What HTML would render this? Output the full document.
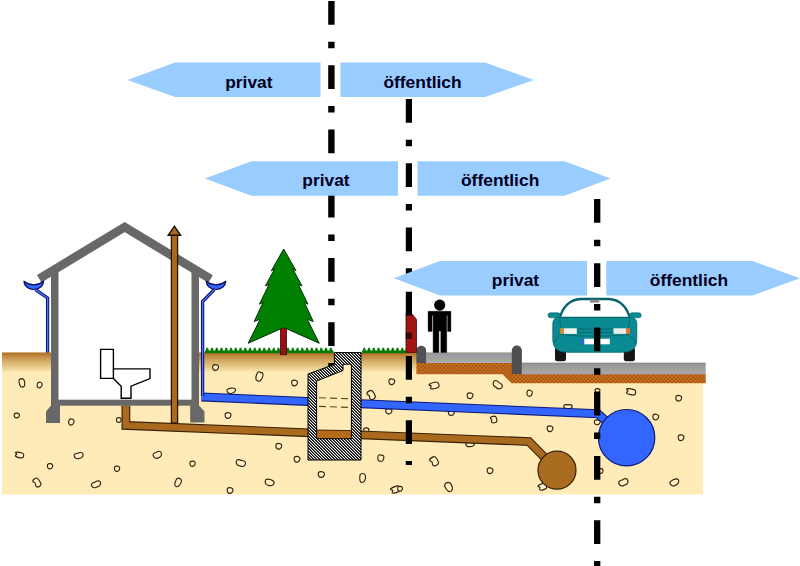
<!DOCTYPE html>
<html><head><meta charset="utf-8"><title>Grundstücksentwässerung</title>
<style>html,body{margin:0;padding:0;background:#fff;}body{width:800px;height:566px;overflow:hidden;font-family:"Liberation Sans",sans-serif;}svg{display:block;}text{font-family:"Liberation Sans",sans-serif;font-weight:bold;font-size:17.4px;fill:#00001c;}</style>
</head><body>
<svg width="800" height="566" viewBox="0 0 800 566">
<defs>
<linearGradient id="gg" x1="0" y1="0" x2="0" y2="1">
<stop offset="0" stop-color="#a96b21"/><stop offset="0.15" stop-color="#bd873c"/><stop offset="0.33" stop-color="#cb9d56"/><stop offset="0.53" stop-color="#dab872"/><stop offset="0.78" stop-color="#ead194"/><stop offset="1" stop-color="#ffebb8"/>
</linearGradient>
<pattern id="hatch" width="3" height="3" patternUnits="userSpaceOnUse" patternTransform="translate(308 352)">
<rect width="3" height="3" fill="#fff"/>
<g shape-rendering="crispEdges"><rect x="0" y="0" width="1" height="1" fill="#000"/><rect x="1" y="1" width="1" height="1" fill="#000"/><rect x="2" y="2" width="1" height="1" fill="#000"/>
<rect x="1" y="0" width="1" height="1" fill="#555"/><rect x="2" y="1" width="1" height="1" fill="#555"/><rect x="0" y="2" width="1" height="1" fill="#555"/></g>
</pattern>
<pattern id="gravel" width="3.8" height="3.8" patternUnits="userSpaceOnUse" patternTransform="translate(416.4 363)">
<rect width="3.8" height="3.8" fill="#c8701f"/><circle cx="0.9" cy="0.9" r="0.75" fill="#7a3208"/><circle cx="2.8" cy="2.8" r="0.75" fill="#7a3208"/>
</pattern>
<linearGradient id="sw" x1="0" y1="0" x2="0" y2="1"><stop offset="0" stop-color="#8a8a88"/><stop offset="0.12" stop-color="#9a98a4"/><stop offset="0.4" stop-color="#a1a1a1"/><stop offset="0.65" stop-color="#a0a499"/><stop offset="1" stop-color="#b0aebb"/></linearGradient>
<linearGradient id="rd" x1="0" y1="0" x2="0" y2="1"><stop offset="0" stop-color="#7e7e7e"/><stop offset="0.15" stop-color="#979797"/><stop offset="0.55" stop-color="#9fa29c"/><stop offset="1" stop-color="#a9a5b0"/></linearGradient>
</defs>
<polygon points="2,352.5 522,352.5 522,363 703,363 703,494.6 2,494.6" fill="#ffebb8"/>
<rect x="2" y="352.5" width="420" height="20" fill="url(#gg)"/>
<path d="M-1,-0.35 C-1,-1 -0.35,-1.05 0,-0.85 C0.4,-1.1 1.05,-0.85 1,-0.1 C0.95,0.7 0.45,1 0,0.85 C-0.5,1.05 -1.05,0.55 -1,-0.35Z" transform="translate(22 383) rotate(-10) scale(2.75 4.50)" fill="#ffefc4" stroke="#33220c" stroke-width="1.15" vector-effect="non-scaling-stroke"/>
<path d="M-0.9,-0.6 C-0.5,-1.1 0.5,-1.05 0.9,-0.55 C1.15,0 0.8,0.85 0.1,0.95 C-0.6,1.05 -1.1,0.5 -0.9,-0.6Z" transform="translate(39.5 385) rotate(20) scale(2.50 3.00)" fill="#ffefc4" stroke="#33220c" stroke-width="1.15" vector-effect="non-scaling-stroke"/>
<path d="M-0.9,-0.6 C-0.5,-1.1 0.5,-1.05 0.9,-0.55 C1.15,0 0.8,0.85 0.1,0.95 C-0.6,1.05 -1.1,0.5 -0.9,-0.6Z" transform="translate(16.75 415.5) rotate(0) scale(2.75 2.50)" fill="#ffefc4" stroke="#33220c" stroke-width="1.15" vector-effect="non-scaling-stroke"/>
<path d="M-0.9,-0.6 C-0.5,-1.1 0.5,-1.05 0.9,-0.55 C1.15,0 0.8,0.85 0.1,0.95 C-0.6,1.05 -1.1,0.5 -0.9,-0.6Z" transform="translate(71.25 422) rotate(15) scale(2.75 3.25)" fill="#ffefc4" stroke="#33220c" stroke-width="1.15" vector-effect="non-scaling-stroke"/>
<path d="M-0.9,-0.6 C-0.5,-1.1 0.5,-1.05 0.9,-0.55 C1.15,0 0.8,0.85 0.1,0.95 C-0.6,1.05 -1.1,0.5 -0.9,-0.6Z" transform="translate(118.75 420) rotate(0) scale(2.50 2.50)" fill="#ffefc4" stroke="#33220c" stroke-width="1.15" vector-effect="non-scaling-stroke"/>
<path d="M-1,-0.7 C-0.6,-1.05 0.2,-0.95 0.55,-0.9 C1.05,-0.8 1.05,0.2 0.9,0.7 C0.6,1.05 -0.5,1.05 -0.85,0.7 C-1.1,0.3 -0.55,0.1 -0.65,-0.15 C-0.75,-0.4 -1.15,-0.4 -1,-0.7Z" transform="translate(19.5 455) rotate(10) scale(4.25 2.75)" fill="#ffefc4" stroke="#33220c" stroke-width="1.15" vector-effect="non-scaling-stroke"/>
<path d="M-1,-0.35 C-1,-1 -0.35,-1.05 0,-0.85 C0.4,-1.1 1.05,-0.85 1,-0.1 C0.95,0.7 0.45,1 0,0.85 C-0.5,1.05 -1.05,0.55 -1,-0.35Z" transform="translate(78.75 455.75) rotate(-15) scale(4.50 3.00)" fill="#ffefc4" stroke="#33220c" stroke-width="1.15" vector-effect="non-scaling-stroke"/>
<path d="M-0.9,-0.6 C-0.5,-1.1 0.5,-1.05 0.9,-0.55 C1.15,0 0.8,0.85 0.1,0.95 C-0.6,1.05 -1.1,0.5 -0.9,-0.6Z" transform="translate(50 466.25) rotate(0) scale(2.75 2.75)" fill="#ffefc4" stroke="#33220c" stroke-width="1.15" vector-effect="non-scaling-stroke"/>
<path d="M-0.9,-0.6 C-0.5,-1.1 0.5,-1.05 0.9,-0.55 C1.15,0 0.8,0.85 0.1,0.95 C-0.6,1.05 -1.1,0.5 -0.9,-0.6Z" transform="translate(117 468.75) rotate(0) scale(2.75 2.75)" fill="#ffefc4" stroke="#33220c" stroke-width="1.15" vector-effect="non-scaling-stroke"/>
<path d="M-1,-0.35 C-1,-1 -0.35,-1.05 0,-0.85 C0.4,-1.1 1.05,-0.85 1,-0.1 C0.95,0.7 0.45,1 0,0.85 C-0.5,1.05 -1.05,0.55 -1,-0.35Z" transform="translate(157.5 455) rotate(-25) scale(4.25 3.25)" fill="#ffefc4" stroke="#33220c" stroke-width="1.15" vector-effect="non-scaling-stroke"/>
<path d="M-0.9,-0.6 C-0.5,-1.1 0.5,-1.05 0.9,-0.55 C1.15,0 0.8,0.85 0.1,0.95 C-0.6,1.05 -1.1,0.5 -0.9,-0.6Z" transform="translate(192.5 463.75) rotate(0) scale(2.75 2.75)" fill="#ffefc4" stroke="#33220c" stroke-width="1.15" vector-effect="non-scaling-stroke"/>
<path d="M-1,-0.7 C-0.6,-1.05 0.2,-0.95 0.55,-0.9 C1.05,-0.8 1.05,0.2 0.9,0.7 C0.6,1.05 -0.5,1.05 -0.85,0.7 C-1.1,0.3 -0.55,0.1 -0.65,-0.15 C-0.75,-0.4 -1.15,-0.4 -1,-0.7Z" transform="translate(37 482.5) rotate(-30) scale(3.00 4.75)" fill="#ffefc4" stroke="#33220c" stroke-width="1.15" vector-effect="non-scaling-stroke"/>
<path d="M-1,-0.35 C-1,-1 -0.35,-1.05 0,-0.85 C0.4,-1.1 1.05,-0.85 1,-0.1 C0.95,0.7 0.45,1 0,0.85 C-0.5,1.05 -1.05,0.55 -1,-0.35Z" transform="translate(96.25 484.5) rotate(-25) scale(4.75 3.00)" fill="#ffefc4" stroke="#33220c" stroke-width="1.15" vector-effect="non-scaling-stroke"/>
<path d="M-0.9,-0.6 C-0.5,-1.1 0.5,-1.05 0.9,-0.55 C1.15,0 0.8,0.85 0.1,0.95 C-0.6,1.05 -1.1,0.5 -0.9,-0.6Z" transform="translate(178 482.5) rotate(25) scale(3.00 4.75)" fill="#ffefc4" stroke="#33220c" stroke-width="1.15" vector-effect="non-scaling-stroke"/>
<path d="M-0.9,-0.6 C-0.5,-1.1 0.5,-1.05 0.9,-0.55 C1.15,0 0.8,0.85 0.1,0.95 C-0.6,1.05 -1.1,0.5 -0.9,-0.6Z" transform="translate(215.5 367.5) rotate(0) scale(3.00 3.00)" fill="#ffefc4" stroke="#33220c" stroke-width="1.15" vector-effect="non-scaling-stroke"/>
<path d="M-1,-0.35 C-1,-1 -0.35,-1.05 0,-0.85 C0.4,-1.1 1.05,-0.85 1,-0.1 C0.95,0.7 0.45,1 0,0.85 C-0.5,1.05 -1.05,0.55 -1,-0.35Z" transform="translate(259.25 376.75) rotate(20) scale(3.25 5.00)" fill="#ffefc4" stroke="#33220c" stroke-width="1.15" vector-effect="non-scaling-stroke"/>
<path d="M-0.9,-0.6 C-0.5,-1.1 0.5,-1.05 0.9,-0.55 C1.15,0 0.8,0.85 0.1,0.95 C-0.6,1.05 -1.1,0.5 -0.9,-0.6Z" transform="translate(231.25 390.75) rotate(-10) scale(4.50 2.75)" fill="#ffefc4" stroke="#33220c" stroke-width="1.15" vector-effect="non-scaling-stroke"/>
<path d="M-0.9,-0.6 C-0.5,-1.1 0.5,-1.05 0.9,-0.55 C1.15,0 0.8,0.85 0.1,0.95 C-0.6,1.05 -1.1,0.5 -0.9,-0.6Z" transform="translate(294.5 383) rotate(0) scale(3.00 3.00)" fill="#ffefc4" stroke="#33220c" stroke-width="1.15" vector-effect="non-scaling-stroke"/>
<path d="M-0.9,-0.6 C-0.5,-1.1 0.5,-1.05 0.9,-0.55 C1.15,0 0.8,0.85 0.1,0.95 C-0.6,1.05 -1.1,0.5 -0.9,-0.6Z" transform="translate(228 415.5) rotate(0) scale(3.00 3.00)" fill="#ffefc4" stroke="#33220c" stroke-width="1.15" vector-effect="non-scaling-stroke"/>
<path d="M-0.9,-0.6 C-0.5,-1.1 0.5,-1.05 0.9,-0.55 C1.15,0 0.8,0.85 0.1,0.95 C-0.6,1.05 -1.1,0.5 -0.9,-0.6Z" transform="translate(278.75 446.25) rotate(0) scale(3.00 3.00)" fill="#ffefc4" stroke="#33220c" stroke-width="1.15" vector-effect="non-scaling-stroke"/>
<path d="M-0.9,-0.6 C-0.5,-1.1 0.5,-1.05 0.9,-0.55 C1.15,0 0.8,0.85 0.1,0.95 C-0.6,1.05 -1.1,0.5 -0.9,-0.6Z" transform="translate(297 459.25) rotate(0) scale(3.00 3.00)" fill="#ffefc4" stroke="#33220c" stroke-width="1.15" vector-effect="non-scaling-stroke"/>
<path d="M-1,-0.35 C-1,-1 -0.35,-1.05 0,-0.85 C0.4,-1.1 1.05,-0.85 1,-0.1 C0.95,0.7 0.45,1 0,0.85 C-0.5,1.05 -1.05,0.55 -1,-0.35Z" transform="translate(240.75 463.25) rotate(15) scale(4.75 3.25)" fill="#ffefc4" stroke="#33220c" stroke-width="1.15" vector-effect="non-scaling-stroke"/>
<path d="M-0.9,-0.6 C-0.5,-1.1 0.5,-1.05 0.9,-0.55 C1.15,0 0.8,0.85 0.1,0.95 C-0.6,1.05 -1.1,0.5 -0.9,-0.6Z" transform="translate(269.5 482.5) rotate(15) scale(4.75 3.25)" fill="#ffefc4" stroke="#33220c" stroke-width="1.15" vector-effect="non-scaling-stroke"/>
<path d="M-0.9,-0.6 C-0.5,-1.1 0.5,-1.05 0.9,-0.55 C1.15,0 0.8,0.85 0.1,0.95 C-0.6,1.05 -1.1,0.5 -0.9,-0.6Z" transform="translate(230 490.5) rotate(0) scale(3.00 3.00)" fill="#ffefc4" stroke="#33220c" stroke-width="1.15" vector-effect="non-scaling-stroke"/>
<path d="M-0.9,-0.6 C-0.5,-1.1 0.5,-1.05 0.9,-0.55 C1.15,0 0.8,0.85 0.1,0.95 C-0.6,1.05 -1.1,0.5 -0.9,-0.6Z" transform="translate(321.25 474.5) rotate(0) scale(3.25 3.00)" fill="#ffefc4" stroke="#33220c" stroke-width="1.15" vector-effect="non-scaling-stroke"/>
<path d="M-0.9,-0.6 C-0.5,-1.1 0.5,-1.05 0.9,-0.55 C1.15,0 0.8,0.85 0.1,0.95 C-0.6,1.05 -1.1,0.5 -0.9,-0.6Z" transform="translate(362.5 478) rotate(5) scale(3.00 4.75)" fill="#ffefc4" stroke="#33220c" stroke-width="1.15" vector-effect="non-scaling-stroke"/>
<path d="M-1,-0.7 C-0.6,-1.05 0.2,-0.95 0.55,-0.9 C1.05,-0.8 1.05,0.2 0.9,0.7 C0.6,1.05 -0.5,1.05 -0.85,0.7 C-1.1,0.3 -0.55,0.1 -0.65,-0.15 C-0.75,-0.4 -1.15,-0.4 -1,-0.7Z" transform="translate(395.75 489.5) rotate(-20) scale(4.75 3.25)" fill="#ffefc4" stroke="#33220c" stroke-width="1.15" vector-effect="non-scaling-stroke"/>
<path d="M-1,-0.35 C-1,-1 -0.35,-1.05 0,-0.85 C0.4,-1.1 1.05,-0.85 1,-0.1 C0.95,0.7 0.45,1 0,0.85 C-0.5,1.05 -1.05,0.55 -1,-0.35Z" transform="translate(380.75 458.25) rotate(10) scale(3.00 3.50)" fill="#ffefc4" stroke="#33220c" stroke-width="1.15" vector-effect="non-scaling-stroke"/>
<path d="M-0.9,-0.6 C-0.5,-1.1 0.5,-1.05 0.9,-0.55 C1.15,0 0.8,0.85 0.1,0.95 C-0.6,1.05 -1.1,0.5 -0.9,-0.6Z" transform="translate(391.75 381.75) rotate(0) scale(3.00 3.00)" fill="#ffefc4" stroke="#33220c" stroke-width="1.15" vector-effect="non-scaling-stroke"/>
<path d="M-1,-0.7 C-0.6,-1.05 0.2,-0.95 0.55,-0.9 C1.05,-0.8 1.05,0.2 0.9,0.7 C0.6,1.05 -0.5,1.05 -0.85,0.7 C-1.1,0.3 -0.55,0.1 -0.65,-0.15 C-0.75,-0.4 -1.15,-0.4 -1,-0.7Z" transform="translate(371.25 395) rotate(-30) scale(3.25 4.75)" fill="#ffefc4" stroke="#33220c" stroke-width="1.15" vector-effect="non-scaling-stroke"/>
<path d="M-0.9,-0.6 C-0.5,-1.1 0.5,-1.05 0.9,-0.55 C1.15,0 0.8,0.85 0.1,0.95 C-0.6,1.05 -1.1,0.5 -0.9,-0.6Z" transform="translate(388.75 411.25) rotate(0) scale(3.25 2.75)" fill="#ffefc4" stroke="#33220c" stroke-width="1.15" vector-effect="non-scaling-stroke"/>
<path d="M-0.9,-0.6 C-0.5,-1.1 0.5,-1.05 0.9,-0.55 C1.15,0 0.8,0.85 0.1,0.95 C-0.6,1.05 -1.1,0.5 -0.9,-0.6Z" transform="translate(366.25 430) rotate(0) scale(2.75 2.25)" fill="#ffefc4" stroke="#33220c" stroke-width="1.15" vector-effect="non-scaling-stroke"/>
<path d="M-1,-0.7 C-0.6,-1.05 0.2,-0.95 0.55,-0.9 C1.05,-0.8 1.05,0.2 0.9,0.7 C0.6,1.05 -0.5,1.05 -0.85,0.7 C-1.1,0.3 -0.55,0.1 -0.65,-0.15 C-0.75,-0.4 -1.15,-0.4 -1,-0.7Z" transform="translate(434.25 385.5) rotate(-15) scale(4.75 3.25)" fill="#ffefc4" stroke="#33220c" stroke-width="1.15" vector-effect="non-scaling-stroke"/>
<path d="M-1,-0.35 C-1,-1 -0.35,-1.05 0,-0.85 C0.4,-1.1 1.05,-0.85 1,-0.1 C0.95,0.7 0.45,1 0,0.85 C-0.5,1.05 -1.05,0.55 -1,-0.35Z" transform="translate(497.5 385) rotate(35) scale(5.00 3.25)" fill="#ffefc4" stroke="#33220c" stroke-width="1.15" vector-effect="non-scaling-stroke"/>
<path d="M-0.9,-0.6 C-0.5,-1.1 0.5,-1.05 0.9,-0.55 C1.15,0 0.8,0.85 0.1,0.95 C-0.6,1.05 -1.1,0.5 -0.9,-0.6Z" transform="translate(470 395.75) rotate(0) scale(3.00 3.00)" fill="#ffefc4" stroke="#33220c" stroke-width="1.15" vector-effect="non-scaling-stroke"/>
<path d="M-0.9,-0.6 C-0.5,-1.1 0.5,-1.05 0.9,-0.55 C1.15,0 0.8,0.85 0.1,0.95 C-0.6,1.05 -1.1,0.5 -0.9,-0.6Z" transform="translate(529.5 393.25) rotate(10) scale(2.75 3.25)" fill="#ffefc4" stroke="#33220c" stroke-width="1.15" vector-effect="non-scaling-stroke"/>
<path d="M-1,-0.35 C-1,-1 -0.35,-1.05 0,-0.85 C0.4,-1.1 1.05,-0.85 1,-0.1 C0.95,0.7 0.45,1 0,0.85 C-0.5,1.05 -1.05,0.55 -1,-0.35Z" transform="translate(568 406.75) rotate(0) scale(4.25 2.25)" fill="#ffefc4" stroke="#33220c" stroke-width="1.15" vector-effect="non-scaling-stroke"/>
<path d="M-0.9,-0.6 C-0.5,-1.1 0.5,-1.05 0.9,-0.55 C1.15,0 0.8,0.85 0.1,0.95 C-0.6,1.05 -1.1,0.5 -0.9,-0.6Z" transform="translate(451.25 413) rotate(0) scale(3.00 2.50)" fill="#ffefc4" stroke="#33220c" stroke-width="1.15" vector-effect="non-scaling-stroke"/>
<path d="M-1,-0.7 C-0.6,-1.05 0.2,-0.95 0.55,-0.9 C1.05,-0.8 1.05,0.2 0.9,0.7 C0.6,1.05 -0.5,1.05 -0.85,0.7 C-1.1,0.3 -0.55,0.1 -0.65,-0.15 C-0.75,-0.4 -1.15,-0.4 -1,-0.7Z" transform="translate(493.75 419.5) rotate(-10) scale(3.00 3.50)" fill="#ffefc4" stroke="#33220c" stroke-width="1.15" vector-effect="non-scaling-stroke"/>
<path d="M-0.9,-0.6 C-0.5,-1.1 0.5,-1.05 0.9,-0.55 C1.15,0 0.8,0.85 0.1,0.95 C-0.6,1.05 -1.1,0.5 -0.9,-0.6Z" transform="translate(550 428.75) rotate(0) scale(3.00 3.00)" fill="#ffefc4" stroke="#33220c" stroke-width="1.15" vector-effect="non-scaling-stroke"/>
<path d="M-0.9,-0.6 C-0.5,-1.1 0.5,-1.05 0.9,-0.55 C1.15,0 0.8,0.85 0.1,0.95 C-0.6,1.05 -1.1,0.5 -0.9,-0.6Z" transform="translate(470 444.5) rotate(0) scale(4.50 2.25)" fill="#ffefc4" stroke="#33220c" stroke-width="1.15" vector-effect="non-scaling-stroke"/>
<path d="M-1,-0.7 C-0.6,-1.05 0.2,-0.95 0.55,-0.9 C1.05,-0.8 1.05,0.2 0.9,0.7 C0.6,1.05 -0.5,1.05 -0.85,0.7 C-1.1,0.3 -0.55,0.1 -0.65,-0.15 C-0.75,-0.4 -1.15,-0.4 -1,-0.7Z" transform="translate(434.25 461.25) rotate(-30) scale(3.50 4.75)" fill="#ffefc4" stroke="#33220c" stroke-width="1.15" vector-effect="non-scaling-stroke"/>
<path d="M-0.9,-0.6 C-0.5,-1.1 0.5,-1.05 0.9,-0.55 C1.15,0 0.8,0.85 0.1,0.95 C-0.6,1.05 -1.1,0.5 -0.9,-0.6Z" transform="translate(490 470.75) rotate(0) scale(3.00 3.00)" fill="#ffefc4" stroke="#33220c" stroke-width="1.15" vector-effect="non-scaling-stroke"/>
<path d="M-0.9,-0.6 C-0.5,-1.1 0.5,-1.05 0.9,-0.55 C1.15,0 0.8,0.85 0.1,0.95 C-0.6,1.05 -1.1,0.5 -0.9,-0.6Z" transform="translate(448.75 487) rotate(-30) scale(3.50 5.00)" fill="#ffefc4" stroke="#33220c" stroke-width="1.15" vector-effect="non-scaling-stroke"/>
<path d="M-1,-0.7 C-0.6,-1.05 0.2,-0.95 0.55,-0.9 C1.05,-0.8 1.05,0.2 0.9,0.7 C0.6,1.05 -0.5,1.05 -0.85,0.7 C-1.1,0.3 -0.55,0.1 -0.65,-0.15 C-0.75,-0.4 -1.15,-0.4 -1,-0.7Z" transform="translate(542.5 486.75) rotate(-20) scale(4.00 3.25)" fill="#ffefc4" stroke="#33220c" stroke-width="1.15" vector-effect="non-scaling-stroke"/>
<path d="M-0.9,-0.6 C-0.5,-1.1 0.5,-1.05 0.9,-0.55 C1.15,0 0.8,0.85 0.1,0.95 C-0.6,1.05 -1.1,0.5 -0.9,-0.6Z" transform="translate(597.2 422.3) rotate(0) scale(3.00 2.50)" fill="#ffefc4" stroke="#33220c" stroke-width="1.15" vector-effect="non-scaling-stroke"/>
<path d="M-0.9,-0.6 C-0.5,-1.1 0.5,-1.05 0.9,-0.55 C1.15,0 0.8,0.85 0.1,0.95 C-0.6,1.05 -1.1,0.5 -0.9,-0.6Z" transform="translate(597.5 390.5) rotate(0) scale(2.50 2.00)" fill="#ffefc4" stroke="#33220c" stroke-width="1.15" vector-effect="non-scaling-stroke"/>
<path d="M-1,-0.7 C-0.6,-1.05 0.2,-0.95 0.55,-0.9 C1.05,-0.8 1.05,0.2 0.9,0.7 C0.6,1.05 -0.5,1.05 -0.85,0.7 C-1.1,0.3 -0.55,0.1 -0.65,-0.15 C-0.75,-0.4 -1.15,-0.4 -1,-0.7Z" transform="translate(631 391.8) rotate(10) scale(4.75 3.00)" fill="#ffefc4" stroke="#33220c" stroke-width="1.15" vector-effect="non-scaling-stroke"/>
<path d="M-0.9,-0.6 C-0.5,-1.1 0.5,-1.05 0.9,-0.55 C1.15,0 0.8,0.85 0.1,0.95 C-0.6,1.05 -1.1,0.5 -0.9,-0.6Z" transform="translate(678.7 398.2) rotate(0) scale(3.00 3.00)" fill="#ffefc4" stroke="#33220c" stroke-width="1.15" vector-effect="non-scaling-stroke"/>
<path d="M-0.9,-0.6 C-0.5,-1.1 0.5,-1.05 0.9,-0.55 C1.15,0 0.8,0.85 0.1,0.95 C-0.6,1.05 -1.1,0.5 -0.9,-0.6Z" transform="translate(655.7 417) rotate(10) scale(3.00 3.00)" fill="#ffefc4" stroke="#33220c" stroke-width="1.15" vector-effect="non-scaling-stroke"/>
<path d="M-0.9,-0.6 C-0.5,-1.1 0.5,-1.05 0.9,-0.55 C1.15,0 0.8,0.85 0.1,0.95 C-0.6,1.05 -1.1,0.5 -0.9,-0.6Z" transform="translate(681 437.7) rotate(0) scale(3.00 3.00)" fill="#ffefc4" stroke="#33220c" stroke-width="1.15" vector-effect="non-scaling-stroke"/>
<path d="M-1,-0.35 C-1,-1 -0.35,-1.05 0,-0.85 C0.4,-1.1 1.05,-0.85 1,-0.1 C0.95,0.7 0.45,1 0,0.85 C-0.5,1.05 -1.05,0.55 -1,-0.35Z" transform="translate(623.6 482.5) rotate(-25) scale(4.75 3.25)" fill="#ffefc4" stroke="#33220c" stroke-width="1.15" vector-effect="non-scaling-stroke"/>
<path d="M-0.9,-0.6 C-0.5,-1.1 0.5,-1.05 0.9,-0.55 C1.15,0 0.8,0.85 0.1,0.95 C-0.6,1.05 -1.1,0.5 -0.9,-0.6Z" transform="translate(674.5 482.5) rotate(-25) scale(4.75 3.25)" fill="#ffefc4" stroke="#33220c" stroke-width="1.15" vector-effect="non-scaling-stroke"/>
<path d="M-0.9,-0.6 C-0.5,-1.1 0.5,-1.05 0.9,-0.55 C1.15,0 0.8,0.85 0.1,0.95 C-0.6,1.05 -1.1,0.5 -0.9,-0.6Z" transform="translate(600.6 471) rotate(0) scale(2.50 2.50)" fill="#ffefc4" stroke="#33220c" stroke-width="1.15" vector-effect="non-scaling-stroke"/>
<path d="M-0.9,-0.6 C-0.5,-1.1 0.5,-1.05 0.9,-0.55 C1.15,0 0.8,0.85 0.1,0.95 C-0.6,1.05 -1.1,0.5 -0.9,-0.6Z" transform="translate(400 488.75) rotate(0) scale(2.50 2.50)" fill="#ffefc4" stroke="#33220c" stroke-width="1.15" vector-effect="non-scaling-stroke"/>
<path d="M201.5,396.94 L598,413.75 L616,430" fill="none" stroke="#0c1a7a" stroke-width="9" stroke-linejoin="round"/>
<path d="M201.5,396.94 L598,413.75 L616,430" fill="none" stroke="#3366ff" stroke-width="6.8" stroke-linejoin="round"/>
<circle cx="626.6" cy="437.7" r="28.2" fill="#3366ff" stroke="#0c1a7a" stroke-width="1.2"/>
<path d="M125.9,405.5 L125.9,425.44 L529,441.56 L557,470" fill="none" stroke="#3a2005" stroke-width="8.8" stroke-linejoin="miter"/>
<path d="M125.9,405.5 L125.9,425.44 L529,441.56 L557,470" fill="none" stroke="#a9691e" stroke-width="6.6" stroke-linejoin="miter"/>
<circle cx="557" cy="470.2" r="19" fill="#aa6c1e" stroke="#3a2005" stroke-width="1.2"/>
<rect x="51" y="340" width="148" height="60" fill="#fff"/>
<rect x="51" y="270" width="7.5" height="136" fill="#686868"/>
<rect x="191.5" y="270" width="7.5" height="136" fill="#686868"/>
<rect x="51" y="399.7" width="148" height="6" fill="#686868"/>
<polygon points="51.5,405 46,411.5 46,423 60,423 60,405" fill="#686868"/>
<polygon points="198.5,405 204.5,411.5 204.5,422.6 190.2,422.6 190.2,405" fill="#686868"/>
<polyline points="39.25,278.7 124.7,227.1 210.6,279" fill="none" stroke="#686868" stroke-width="8.7" stroke-linejoin="miter"/>
<rect x="171.4" y="235" width="6.2" height="188" fill="#a9691e" stroke="#2a1603" stroke-width="1.3"/>
<polygon points="174.4,226.2 180.6,235.3 168.2,235.3" fill="#a9691e" stroke="#1a0d02" stroke-width="1.4" stroke-linejoin="miter"/>
<path d="M100.6,349.4 H113.4 V368.9 H150 V378.6 L131,386.2 V398.3 H121.2 V386.2 L113.4,378.4 H100.6 Z" fill="#fff" stroke="#000" stroke-width="1.4" stroke-linejoin="miter"/>
<path d="M113.4,368.9 V378.4" fill="none" stroke="#000" stroke-width="1.4"/>
<path d="M23.95,281.2 A9.8,8.3 0 0 0 43.55,281.2 Q33.75,288.6 23.95,281.2 Z" fill="#3366ff" stroke="#0a0f5a" stroke-width="1.2" stroke-linejoin="round"/>
<path d="M206.2,281.2 A9.8,8.3 0 0 0 225.8,281.2 Q216,288.6 206.2,281.2 Z" fill="#3366ff" stroke="#0a0f5a" stroke-width="1.2" stroke-linejoin="round"/>
<path d="M35.5,289.6 L47.6,298 L47.6,352.5" fill="none" stroke="#0a1070" stroke-width="3.3"/>
<path d="M35.5,289.6 L47.6,298 L47.6,352.5" fill="none" stroke="#4a78ff" stroke-width="1.3"/>
<path d="M214.2,289.6 L202.6,301.5 L202.6,396" fill="none" stroke="#0a1070" stroke-width="3.3"/>
<path d="M214.2,289.6 L202.6,301.5 L202.6,396" fill="none" stroke="#4a78ff" stroke-width="1.3"/>
<path d="M205,353.3 L205,350.6 L205.70,350.4 L206.50,347.7 L208.00,347.7 L208.90,350.4 L209.75,350.6 L210.45,350.4 L211.25,347.7 L212.75,347.7 L213.65,350.4 L214.50,350.6 L215.20,350.4 L216.00,347.7 L217.50,347.7 L218.40,350.4 L219.25,350.6 L219.95,350.4 L220.75,347.7 L222.25,347.7 L223.15,350.4 L224.00,350.6 L224.70,350.4 L225.50,347.7 L227.00,347.7 L227.90,350.4 L228.75,350.6 L229.45,350.4 L230.25,347.7 L231.75,347.7 L232.65,350.4 L233.50,350.6 L234.20,350.4 L235.00,347.7 L236.50,347.7 L237.40,350.4 L238.25,350.6 L238.95,350.4 L239.75,347.7 L241.25,347.7 L242.15,350.4 L243.00,350.6 L243.70,350.4 L244.50,347.7 L246.00,347.7 L246.90,350.4 L247.75,350.6 L248.45,350.4 L249.25,347.7 L250.75,347.7 L251.65,350.4 L252.50,350.6 L253.20,350.4 L254.00,347.7 L255.50,347.7 L256.40,350.4 L257.25,350.6 L257.95,350.4 L258.75,347.7 L260.25,347.7 L261.15,350.4 L262.00,350.6 L262.70,350.4 L263.50,347.7 L265.00,347.7 L265.90,350.4 L266.75,350.6 L267.45,350.4 L268.25,347.7 L269.75,347.7 L270.65,350.4 L271.50,350.6 L272.20,350.4 L273.00,347.7 L274.50,347.7 L275.40,350.4 L276.25,350.6 L276.95,350.4 L277.75,347.7 L279.25,347.7 L280.15,350.4 L281.00,350.6 L281.70,350.4 L282.50,347.7 L284.00,347.7 L284.90,350.4 L285.75,350.6 L286.45,350.4 L287.25,347.7 L288.75,347.7 L289.65,350.4 L290.50,350.6 L291.20,350.4 L292.00,347.7 L293.50,347.7 L294.40,350.4 L295.25,350.6 L295.95,350.4 L296.75,347.7 L298.25,347.7 L299.15,350.4 L300.00,350.6 L300.70,350.4 L301.50,347.7 L303.00,347.7 L303.90,350.4 L304.75,350.6 L305.45,350.4 L306.25,347.7 L307.75,347.7 L308.65,350.4 L309.50,350.6 L310.20,350.4 L311.00,347.7 L312.50,347.7 L313.40,350.4 L314.25,350.6 L314.95,350.4 L315.75,347.7 L317.25,347.7 L318.15,350.4 L319.00,350.6 L319.70,350.4 L320.50,347.7 L322.00,347.7 L322.90,350.4 L323.75,350.6 L324.45,350.4 L325.25,347.7 L326.75,347.7 L327.65,350.4 L328.50,350.6 L329.20,350.4 L330.00,347.7 L331.50,347.7 L332.40,350.4 L333.25,350.6 L333.50,350.4 L333.50,347.7 L333.50,347.7 L333.50,350.4 L333.50,350.6 L333.5,353.3 Z" fill="#087a06"/>
<path d="M362,353.3 L362,350.6 L362.70,350.4 L363.50,347.7 L365.00,347.7 L365.90,350.4 L366.75,350.6 L367.45,350.4 L368.25,347.7 L369.75,347.7 L370.65,350.4 L371.50,350.6 L372.20,350.4 L373.00,347.7 L374.50,347.7 L375.40,350.4 L376.25,350.6 L376.95,350.4 L377.75,347.7 L379.25,347.7 L380.15,350.4 L381.00,350.6 L381.70,350.4 L382.50,347.7 L384.00,347.7 L384.90,350.4 L385.75,350.6 L386.45,350.4 L387.25,347.7 L388.75,347.7 L389.65,350.4 L390.50,350.6 L391.20,350.4 L392.00,347.7 L393.50,347.7 L394.40,350.4 L395.25,350.6 L395.95,350.4 L396.75,347.7 L398.25,347.7 L399.15,350.4 L400.00,350.6 L400.70,350.4 L401.50,347.7 L403.00,347.7 L403.90,350.4 L404.75,350.6 L405.45,350.4 L406.00,347.7 L406.00,347.7 L406.00,350.4 L406.00,350.6 L406,353.3 Z" fill="#087a06"/>
<rect x="280.5" y="326" width="6" height="28.7" fill="#9c0f16" stroke="#3c0406" stroke-width="0.8"/>
<polygon points="283.70,249.00 296.00,270.75 292.70,268.80 302.00,286.00 298.25,284.25 308.00,304.25 304.25,302.25 313.25,321.50 307.25,319.25 319.25,343.25 283.70,327.50 248.15,343.25 260.15,319.25 254.15,321.50 263.15,302.25 259.40,304.25 269.15,284.25 265.40,286.00 274.70,268.80 271.40,270.75" fill="#008000" stroke="#003300" stroke-width="1" stroke-linejoin="miter"/>
<line x1="331.4" y1="1" x2="331.4" y2="371" stroke="#000" stroke-width="6.4" stroke-dasharray="23.75 17 6.5 17"/>
<polygon points="316.6,381 343,370.5 343,364.2 351.4,364.2 351.4,438.7 316.6,438.7" fill="#ffebb8"/>
<rect x="316.6" y="430" width="34.8" height="8.7" fill="#b46c1a"/>
<line x1="316.6" y1="430" x2="351.4" y2="430.6" stroke="#4a2a08" stroke-width="1"/>
<path fill-rule="evenodd" d="M334.4,352.6 L361,352.6 L361,460 L308,460 L308,374 L334.4,364.4 Z M316.6,381 L343,370.5 L343,364.2 L351.4,364.2 L351.4,438.7 L316.6,438.7 Z" fill="url(#hatch)" stroke="#000" stroke-width="1"/>
<line x1="319" y1="397.8" x2="349" y2="398.7" stroke="#5a4a18" stroke-width="1.1" stroke-dasharray="7 4"/>
<line x1="319" y1="406.4" x2="349" y2="407.4" stroke="#5a4a18" stroke-width="1.1" stroke-dasharray="7 4"/>
<polygon points="416.4,363 512,363 512,374 705.7,374 705.7,383.3 511.6,383.3 502.6,374.2 416.4,374.2" fill="url(#gravel)"/>
<rect x="426" y="352.5" width="86" height="10.5" fill="url(#sw)"/>
<rect x="521.9" y="362.7" width="183.8" height="11.6" fill="url(#rd)"/>
<path d="M416.4,363 V350.5 a4.85,4.85 0 0 1 9.7,0 V363 Z" fill="#525254"/>
<path d="M511.8,374 V350.5 a5.05,5.05 0 0 1 10.1,0 V374 Z" fill="#4f4f51"/>
<polygon points="406,314 412,314 416.5,319.5 416.5,352.5 406,352.5" fill="#a01414" stroke="#4a0505" stroke-width="0.8"/>
<circle cx="439.7" cy="305.1" r="5.6" fill="#000"/>
<path d="M428.1,311.3 H450.9 V331.4 H447.6 V315.4 H446.7 V352.5 H440.8 V331 H438.9 V352.5 H433.1 V315.4 H432.1 V331.4 H428.1 Z" fill="#000" stroke="#000" stroke-width="0.4" stroke-linejoin="round"/>
<rect x="555" y="347.3" width="11" height="14" rx="2.5" fill="#151515"/>
<rect x="623.8" y="347.3" width="11.1" height="14" rx="2.5" fill="#151515"/>
<path d="M559.8,318 C562.5,307.5 569.5,299.2 581,299 L608.6,299 C620,299.2 627.1,307.5 629.8,318 Z" fill="#fff" stroke="#07636b" stroke-width="2.3"/>
<rect x="590" y="299.6" width="9.2" height="3" fill="#8a8a8a"/>
<rect x="548" y="312.8" width="12.3" height="5" rx="2.4" fill="#0a8a93" stroke="#07636b" stroke-width="0.6"/>
<rect x="629.5" y="312.8" width="11.7" height="5" rx="2.4" fill="#0a8a93" stroke="#07636b" stroke-width="0.6"/>
<path d="M558,317.6 H631.5 Q636.8,318 636.8,324 V340 Q636.8,352.3 622,352.3 H567.5 Q552.8,352.3 552.8,340 V324 Q552.8,318 558,317.6 Z" fill="#0a8a93" stroke="#07636b" stroke-width="0.8"/>
<path d="M559.6,318.5 Q560.5,324 561,328 M630,318.5 Q629,324 628.6,328 M560,334.5 L553.5,343 M629.6,334.5 L636,343 M560,334.5 Q595,338 629.6,334.5 M577,329 H613 M577,332.5 H613" fill="none" stroke="#07636b" stroke-width="0.9"/>
<rect x="560.3" y="328.3" width="4" height="5.6" fill="#e88a2a"/>
<rect x="564" y="328.3" width="12.8" height="5.6" fill="#f4f4f0"/>
<rect x="613.5" y="328.3" width="12.8" height="5.6" fill="#e8ece6"/>
<rect x="626.2" y="328.3" width="3.8" height="5.6" fill="#e8742a"/>
<rect x="580.5" y="338.7" width="4" height="5.6" fill="#2a6ad0"/>
<rect x="584.3" y="338.7" width="25.5" height="5.6" fill="#fff"/>
<line x1="408.9" y1="99" x2="408.9" y2="465" stroke="#000" stroke-width="6.2" stroke-dasharray="23.75 17 6.5 17"/>
<line x1="597.2" y1="199" x2="597.2" y2="566" stroke="#000" stroke-width="6.3" stroke-dasharray="23.75 17 6.5 17"/>
<rect x="406.4" y="331" width="9.7" height="9" fill="#a01414" opacity="0.4"/>
<polygon points="127.5,79.9 175,62.60000000000001 320.5,62.60000000000001 320.5,97.10000000000001 175,97.10000000000001" fill="#99ccff"/>
<polygon points="340.5,62.60000000000001 485,62.60000000000001 534,79.9 485,97.10000000000001 340.5,97.10000000000001" fill="#99ccff"/>
<text x="225.2" y="87.5">privat</text>
<text x="383.4" y="87.5">öffentlich</text>
<polygon points="205,178.5 251.3,161.2 398,161.2 398,195.7 251.3,195.7" fill="#99ccff"/>
<polygon points="417.5,161.2 564.5,161.2 610.5,178.5 564.5,195.7 417.5,195.7" fill="#99ccff"/>
<text x="302.3" y="186.1">privat</text>
<text x="461" y="186.1">öffentlich</text>
<polygon points="393.8,278.3 440,261.0 587,261.0 587,295.5 440,295.5" fill="#99ccff"/>
<polygon points="606.3,261.0 752.5,261.0 800,278.3 752.5,295.5 606.3,295.5" fill="#99ccff"/>
<text x="491.8" y="285.90000000000003">privat</text>
<text x="649.8" y="285.90000000000003">öffentlich</text>
</svg></body></html>
